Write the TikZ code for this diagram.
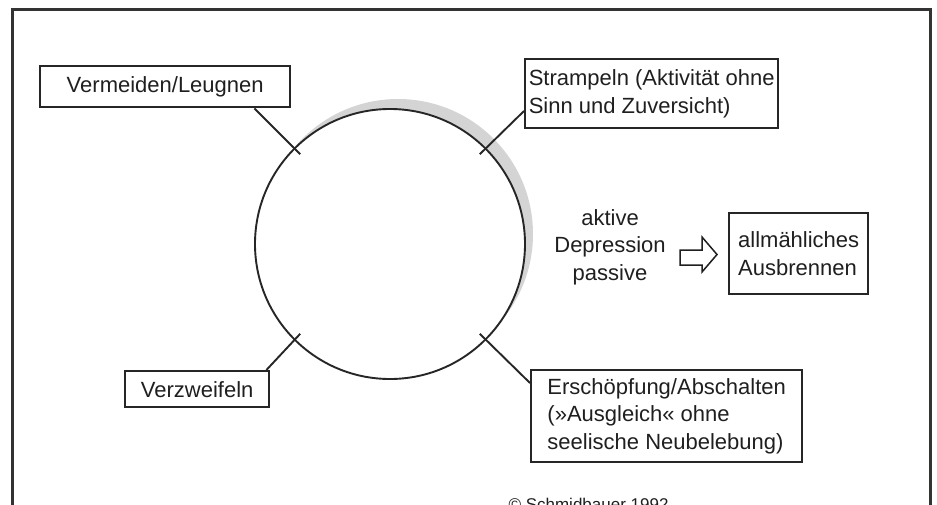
\documentclass[tikz,border=0pt]{standalone}
\usepackage{fontspec}
\setmainfont{Liberation Sans}
\usetikzlibrary{calc}

\tikzset{
  kasten/.style={draw=black!85, line width=2.4pt, inner sep=0pt, align=left, anchor=north west},
  strich/.style={draw=black!85, line width=1.9pt},
}

\begin{document}
\begin{tikzpicture}[x=1pt, y=-1pt, font=\fontsize{22}{27.5}\selectfont, color=black!88]
	\useasboundingbox (0,0) rectangle (937,504);
	% rahmen
	\draw [line width=3pt, color=black!80] (12,520) -- (12,9) -- (930,9) -- (930,520);
	% kreis mit schatten
	\fill [color=black!17] (398,234) circle (135);
	\node [circle, draw=black!85, line width=1.9pt, fill=white, minimum size=270pt, inner sep=0pt] (kreis) at (390,244) {};
	\coordinate (tA) at ($(kreis.center)+(225:127)$);
	\coordinate (tB) at ($(kreis.center)+(315:127)$);
	\coordinate (tC) at ($(kreis.center)+(135:127)$);
	\coordinate (tD) at ($(kreis.center)+(45:127)$);
	% kaesten
	\node [kasten, minimum width=250pt, minimum height=41pt] (vermeiden) at (39,65) {Vermeiden/Leugnen};
	\node [kasten, minimum width=253pt, minimum height=69pt] (strampeln) at (524,58) {Strampeln (Aktivität ohne\\Sinn und Zuversicht)};
	\node [kasten, minimum width=139pt, minimum height=81pt] (ausbrennen) at (728,212) {allmähliches\\Ausbrennen};
	\node [kasten, minimum width=144pt, minimum height=36pt] (verzweifeln) at (124,370) {Verzweifeln};
	\node [kasten, minimum width=271pt, minimum height=92pt] (erschoepfung) at (530,369) {Erschöpfung/Abschalten\\(»Ausgleich« ohne\\seelische Neubelebung)};
	% striche
	\draw [strich] ($(vermeiden.south east)+(-37,0)$) -- (tA);
	\draw [strich] ($(strampeln.north west)+(0,53)$) -- (tB);
	\draw [strich] ($(verzweifeln.north east)+(-4,0)$) -- (tC);
	\draw [strich] ($(erschoepfung.north west)+(0,14)$) -- (tD);
	% depression
	\node [align=center] (depression) at (610,247) {aktive\\Depression\\passive};
	\draw [line width=1.5pt] (680,250) -- (702,250) -- (702,237) -- (717,254.5) -- (702,272) -- (702,265) -- (680,265) -- cycle;
	\node [anchor=north west, font=\fontsize{17}{20}\selectfont] (quelle) at (505,495) {© Schmidbauer 1992};
\end{tikzpicture}
\end{document}
